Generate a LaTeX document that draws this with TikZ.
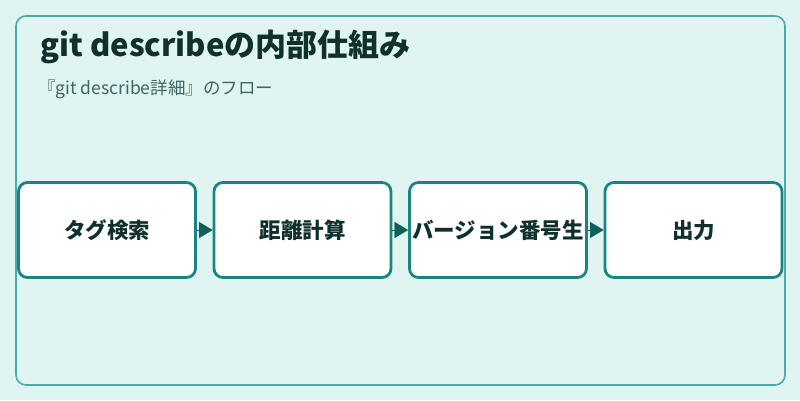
\documentclass[tikz,border=0pt]{standalone}
\usepackage{fontspec}
\setmainfont{Noto Sans CJK JP}
\usetikzlibrary{arrows.meta, positioning}

\definecolor{bgteal}{HTML}{E0F4F2}
\definecolor{frameteal}{HTML}{4AABA8}
\definecolor{boxteal}{HTML}{1A8580}
\definecolor{tipteal}{HTML}{0F5F5B}
\definecolor{inkdark}{HTML}{10302E}
\definecolor{inksub}{HTML}{3C6663}

\begin{document}
\begin{tikzpicture}[
        x=1pt, y=1pt,
        stage/.style={
            draw=boxteal,
            fill=white,
            line width=2.8pt,
            rounded corners=9pt,
            minimum width=177pt,
            minimum height=95pt,
            font=\fontsize{21.5}{25}\selectfont\bfseries,
            text=inkdark,
            align=center,
            inner sep=0pt
        },
        flow/.style={
            draw=tipteal,
            line width=0.2pt,
            -{Triangle[length=13.5pt,width=16pt]},
            color=tipteal
        }
    ]
        % 背景と外枠
        \fill[bgteal] (0,0) rectangle (800,400);
        \useasboundingbox (0,0) rectangle (800,400);
        \draw[frameteal, line width=1.6pt, rounded corners=10pt] (16,15) rectangle (785,384);

        % タイトル
        \node[anchor=west, inner sep=0pt, text=inkdark,
              font=\fontsize{31}{36}\selectfont\bfseries] (title) at (40,353) {git describeの内部仕組み};
        \node[anchor=west, inner sep=0pt, text=inksub,
              font=\fontsize{17.5}{21}\selectfont] (subtitle) at (38,311) {『git describe詳細』のフロー};

        % 処理の流れ(四つの箱)
        \node[stage] (tagsearch) at (107,170) {タグ検索};
        \node[stage, right=15.7pt of tagsearch] (distcalc) {距離計算};
        \node[stage, right=15.7pt of distcalc] (vergen) {バージョン番号生};
        \node[stage, right=15.7pt of vergen] (output) {出力};

        % 矢印
        \draw[flow] (tagsearch) -- (distcalc);
        \draw[flow] (distcalc) -- (vergen);
        \draw[flow] (vergen) -- (output);
    \end{tikzpicture}
\end{document}
